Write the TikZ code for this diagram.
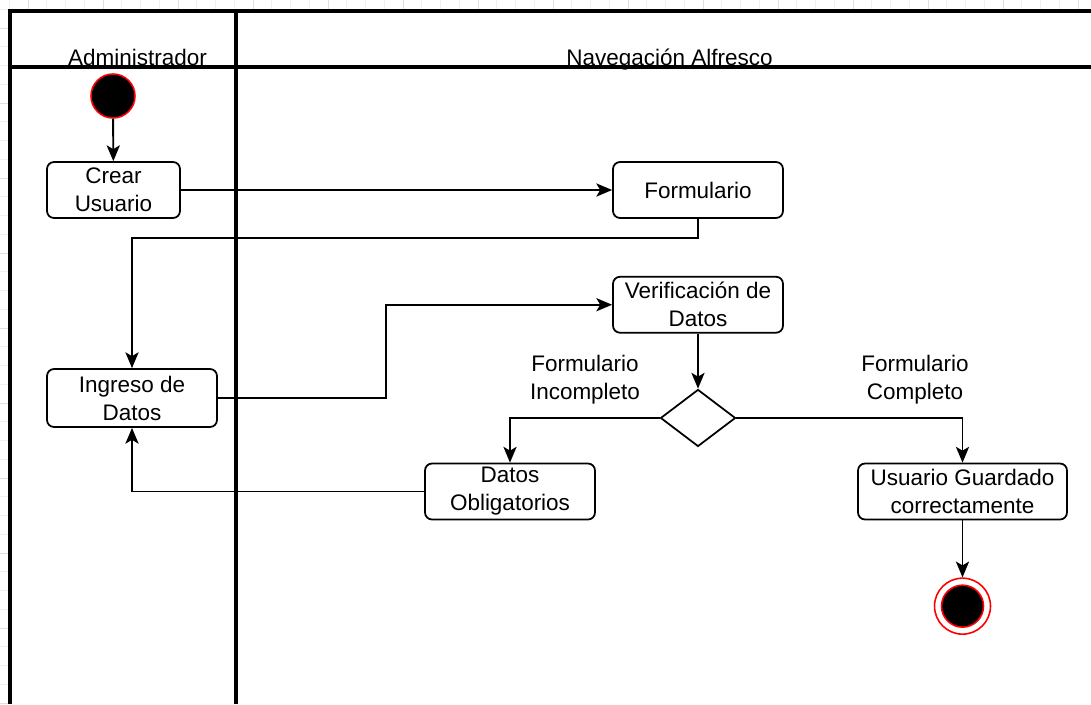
\documentclass[tikz,border=0pt]{standalone}
\usepackage{fontspec}
\setmainfont{Liberation Sans}
\usetikzlibrary{positioning}
\usetikzlibrary{shapes.geometric}
\usetikzlibrary{arrows.meta}

\tikzset{
  txt/.style={font=\fontsize{12.8}{15.9}\selectfont},
  act/.style={txt,draw,rounded corners=4pt,line width=1pt,align=center,
    minimum width=3.4cm,minimum height=1.12cm,inner sep=1pt},
  dec/.style={draw,diamond,line width=1pt,minimum width=1.5cm,
    minimum height=1.14cm,inner sep=0pt},
  initial/.style={circle,draw=red,fill=black,line width=0.9pt,
    minimum size=0.88cm,inner sep=0pt},
  final/.style={circle,draw=red,fill=white,line width=0.9pt,
    minimum size=1.12cm,inner sep=0pt},
  finaldot/.style={circle,draw=red,fill=black,line width=0.9pt,
    minimum size=0.84cm,inner sep=0pt},
  guard/.style={txt,align=center,inner sep=0pt},
  lane/.style={line width=2.1pt},
  flow/.style={line width=1.1pt,-{Stealth[length=9pt,width=7.5pt,inset=2.2pt]}},
  gridminor/.style={gray!12,line width=0.4pt},
  gridmajor/.style={gray!25,line width=0.4pt}
}

\begin{document}
\begin{tikzpicture}[x=0.02cm,y=-0.02cm]
  \useasboundingbox (0,0) rectangle (1091,704);
  % background grid
  \foreach \i in {0,...,58} {
    \draw[gridminor] ({9.25+18.75*\i},0) -- ++(0,704);
    \draw[gridminor] (0,{9.25+18.75*\i}) -- ++(1091,0);
  }
  \foreach \i in {0,...,14} {
    \draw[gridmajor] ({28+75*\i},0) -- ++(0,704);
    \draw[gridmajor] (0,{28+75*\i}) -- ++(1091,0);
  }
  \fill[white] (10,11) rectangle (1091,704);

  % lanes
  \node[txt,anchor=base] (hadm) at (137.5,65) {Administrador};
  \node[txt,anchor=base] (hnav) at (669.5,65) {Navegación Alfresco};
  \draw[lane] (10,704) -- (10,11) -- (1091,11);
  \draw[lane] (10,67) -- (1091,67);
  \draw[lane] (236,11) -- (236,704);

  % activities
  \node[initial] (start) at (113,96) {};
  \node[act,minimum width=2.66cm] (crear) at (113.5,190) {Crear\\Usuario};
  \node[act] (form) at (698,190) {Formulario};
  \node[act,minimum height=1.16cm] (ingreso) at (132,398) {Ingreso de\\Datos};
  \node[act,below = 1.14cm of form] (verif) {Verificación de\\Datos};
  \node[dec,below = 1.1cm of verif] (check) {};
  \node[act] (oblig) at (510,491.5) {Datos\\Obligatorios};
  \node[act,minimum width=4.18cm] (saved) at (962.5,491.5) {Usuario Guardado\\correctamente};
  \node[final,below = 1.14cm of saved] (end) {};
  \node[finaldot] at (end) {};

  \node[guard] (lincomp) at (585,380) {Formulario\\Incompleto};
  \node[guard] (lcomp) at (915,380) {Formulario\\Completo};

  % flows
  \draw[flow] (start) -- (crear);
  \draw[flow] (crear) -- (form);
  \draw[flow] (form.south) -- ++(0,19) -| (ingreso.north);
  \draw[flow] (ingreso.east) -- ++(168,0) |- (verif.west);
  \draw[flow] (verif) -- (check);
  \draw[flow] (check.west) -| (oblig.north);
  \draw[flow] (check.east) -| (saved.north);
  \draw[flow] (oblig.west) -| (ingreso.south);
  \draw[flow] (saved) -- (end);
\end{tikzpicture}
\end{document}
